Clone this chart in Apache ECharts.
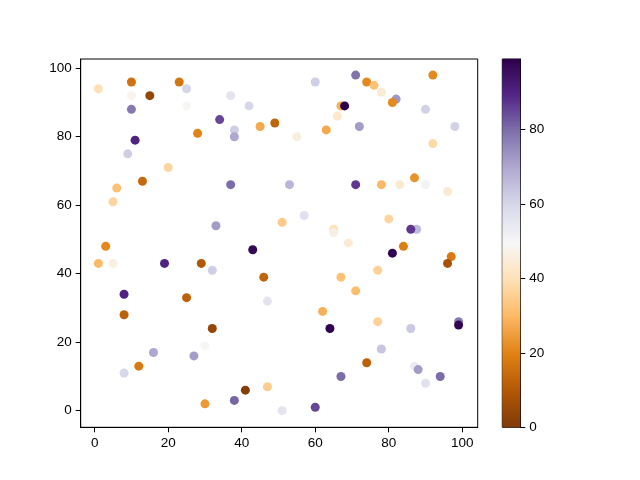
<!DOCTYPE html>
<html>
<head>
<meta charset="utf-8">
<script src="https://cdn.jsdelivr.net/npm/echarts@6/dist/echarts.min.js"></script>
<style>
html,body{margin:0;padding:0;background:#fff;}
#chart{width:640px;height:480px;}
</style>
</head>
<body>
<div id="chart"></div>
<script>
// Scatter points: x, y, colour value
const xs = [1,10,10,15,23,25,25,10,37,42,34,38,38,28,45,49,55,60,67,68,66,63,71,74,76,78,72,82,81,92,90,98,92,11,9,20,13,6,5,37,53,71,78,83,90,87,96,33,51,57,65,65,69,80,3,1,5,19,29,32,43,46,47,67,71,77,81,84,87.6,86,97,96,99,99,8,8,25,32,30,27,16,12,8,30,38,41,47,51,60,64,62,67,74,77,78,86,87,88,90,94];
const ys = [94,96,92,92,96,94,89,88,92,89,85,82,80,81,83,84,80,96,89,89,86,82,98,96,95,93,83,91,90,98,88,83,78,79,75,71,67,65,61,66,66,66,66,66,66,68,64,54,55,57,53,52,49,56,48,43,43,43,43,41,47,39,32,39,35,41,46,48,53,53,45,43,26,25,34,28,33,24,19,16,17,13,11,2,3,6,7,0,1,24,29,10,14,26,18,24,13,12,8,10];
const cs = [40,16,48,4,17,60,49,78,56,60,85,62,70,20,27,13,46,62,28,99,43,27,79,21,32,44,72,73,21,21,61,61,38,90,62,37,14,32,37,80,67,87,30,44,51,23,44,72,34,57,40,46,44,37,21,30,46,90,10,62,97,13,56,32,31,36,98,19,66,87,18,8,78,98,90,12,12,4,49,72,70,18,60,24,81,1,35,56,85,98,28,80,12,36,64,63,54,72,57,80];
const xTicks = [0,20,40,60,80,100];
const yTicks = [0,20,40,60,80,100];
const cbarTicks = [0,20,40,60,80];
const cMin = 0, cMax = 99;
const puor = ['#7f3b08','#b35806','#e08214','#fdb863','#fee0b6','#f7f7f7','#d8daeb','#b2abd2','#8073ac','#542788','#2d004b'];

const points = xs.map((x,i)=>[x, ys[i], cs[i]]);
const font = {fontFamily:'Liberation Sans', fontSize:13.5, color:'#000'};

const chart = echarts.init(document.getElementById('chart'), null, {renderer:'canvas'});
chart.setOption({
  animation:false,
  backgroundColor:'#fff',
  grid:[
    {left:80.7, top:59, width:397, height:368.3, show:true, borderColor:'#000', borderWidth:1, backgroundColor:'transparent'},
    {left:502.3, top:59, width:18, height:368.3, show:true, borderColor:'#000', borderWidth:1, backgroundColor:'transparent'}
  ],
  xAxis:[
    {type:'value', gridIndex:0, min:-3.8, max:104.2,
     axisLine:{show:true, onZero:false, lineStyle:{color:'#000', width:1}},
     axisTick:{show:true, length:5, lineStyle:{color:'#000'}, customValues:xTicks},
     axisLabel:Object.assign({margin:9, customValues:xTicks}, font),
     splitLine:{show:false}},
    {type:'category', gridIndex:1, data:['c'], show:false, boundaryGap:true}
  ],
  yAxis:[
    {type:'value', gridIndex:0, min:-4.85, max:102.7,
     axisLine:{show:true, onZero:false, lineStyle:{color:'#000', width:1}},
     axisTick:{show:true, length:5, lineStyle:{color:'#000'}, customValues:yTicks},
     axisLabel:Object.assign({margin:9, customValues:yTicks}, font),
     splitLine:{show:false}},
    {type:'value', gridIndex:1, min:cMin, max:cMax, position:'right',
     axisLine:{show:true, lineStyle:{color:'#000', width:1}},
     axisTick:{show:true, length:5, lineStyle:{color:'#000'}, customValues:cbarTicks},
     axisLabel:Object.assign({margin:9, customValues:cbarTicks}, font),
     splitLine:{show:false}}
  ],
  visualMap:{type:'continuous', show:false, min:cMin, max:cMax, dimension:2, seriesIndex:0, inRange:{color:puor}},
  series:[
    {type:'scatter', xAxisIndex:0, yAxisIndex:0, data:points, symbolSize:9, itemStyle:{opacity:1}},
    {type:'bar', xAxisIndex:1, yAxisIndex:1, data:[cMax], barWidth:'100%', barCategoryGap:'0%',
     itemStyle:{color:{type:'linear', x:0, y:1, x2:0, y2:0,
       colorStops:puor.map((c,i)=>({offset:i/(puor.length-1), color:c}))}}}
  ]
});
</script>
</body>
</html>
